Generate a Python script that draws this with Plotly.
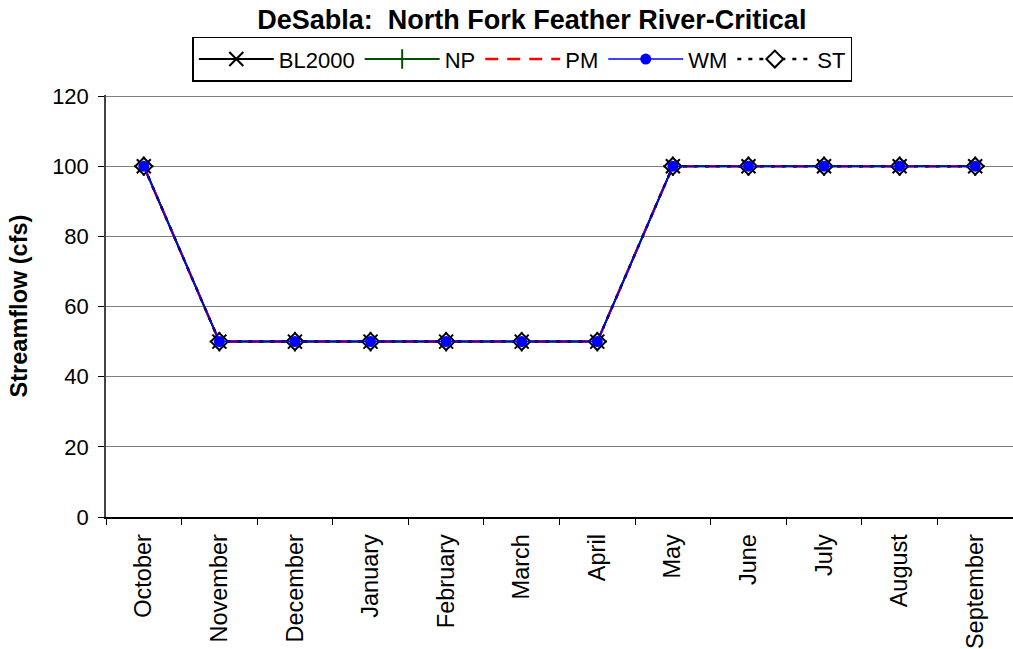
import plotly.graph_objects as go

months = ['October', 'November', 'December', 'January', 'February', 'March',
          'April', 'May', 'June', 'July', 'August', 'September']

bl2000 = [100, 50, 50, 50, 50, 50, 50, 100, 100, 100, 100, 100]
np_flow = [100, 50, 50, 50, 50, 50, 50, 100, 100, 100, 100, 100]
pm = [100, 50, 50, 50, 50, 50, 50, 100, 100, 100, 100, 100]
wm = [100, 50, 50, 50, 50, 50, 50, 100, 100, 100, 100, 100]
st = [100, 50, 50, 50, 50, 50, 50, 100, 100, 100, 100, 100]

fig = go.Figure()

fig.add_trace(go.Scatter(
    x=months, y=bl2000, name='BL2000', mode='lines+markers', legendrank=1,
    line=dict(color='black', width=2),
    marker=dict(symbol='x-thin', size=14, line=dict(color='black', width=2)),
))
fig.add_trace(go.Scatter(
    x=months, y=np_flow, name='NP', mode='lines+markers', legendrank=2,
    line=dict(color='#005000', width=2),
    marker=dict(symbol='cross-thin', size=14, line=dict(color='#005000', width=2)),
))
fig.add_trace(go.Scatter(
    x=months, y=pm, name='PM', mode='lines', legendrank=3,
    line=dict(color='red', width=2.5, dash='13px,9px'),
))
fig.add_trace(go.Scatter(
    x=months, y=st, name='ST', mode='lines+markers', legendrank=5,
    line=dict(color='black', width=2.5, dash='4px,7px'),
    marker=dict(symbol='diamond', size=13, color='white',
                line=dict(color='black', width=2)),
))
fig.add_trace(go.Scatter(
    x=months, y=wm, name='WM', mode='lines+markers', legendrank=4,
    line=dict(color='blue', width=1.5),
    marker=dict(symbol='circle', size=11, color='blue'),
))

fig.update_layout(
    width=1013, height=649,
    margin=dict(l=106, r=0, t=95, b=132, autoexpand=False),
    paper_bgcolor='white', plot_bgcolor='white',
    font=dict(family='Liberation Sans, Arial', size=22, color='black'),
    title=dict(text='<b>DeSabla:  North Fork Feather River-Critical</b>',
               x=0.525, xanchor='center', y=0.985, yanchor='top',
               font=dict(size=27)),
    legend=dict(orientation='h', x=0.459, xanchor='center', y=1.138, yanchor='top',
                bordercolor='black', borderwidth=1.5, bgcolor='white',
                font=dict(size=22), itemwidth=75, tracegroupgap=0),
    showlegend=True,
)

fig.update_xaxes(
    type='category', range=[-0.5, 11.5], tickangle=-90,
    showline=True, linecolor='black', linewidth=1.5,
    ticks='outside', ticklen=6, tickcolor='black', tickson='boundaries',
    showgrid=False, tickfont=dict(size=23.5), ticklabelstandoff=6,
)
fig.update_yaxes(
    range=[0, 120.3], tickvals=[0, 20, 40, 60, 80, 100, 120],
    showline=True, linecolor='#444444', linewidth=1.5,
    ticks='outside', ticklen=6, tickcolor='black',
    showgrid=True, gridcolor='#808080', gridwidth=1,
    zeroline=False, tickfont=dict(size=22), ticklabelstandoff=5,
    title=dict(text='<b>Streamflow (cfs)</b>', font=dict(size=23.5), standoff=18),
)

fig.write_html('out.html', config={'displayModeBar': False},
               post_script="document.body.style.margin='0';")
